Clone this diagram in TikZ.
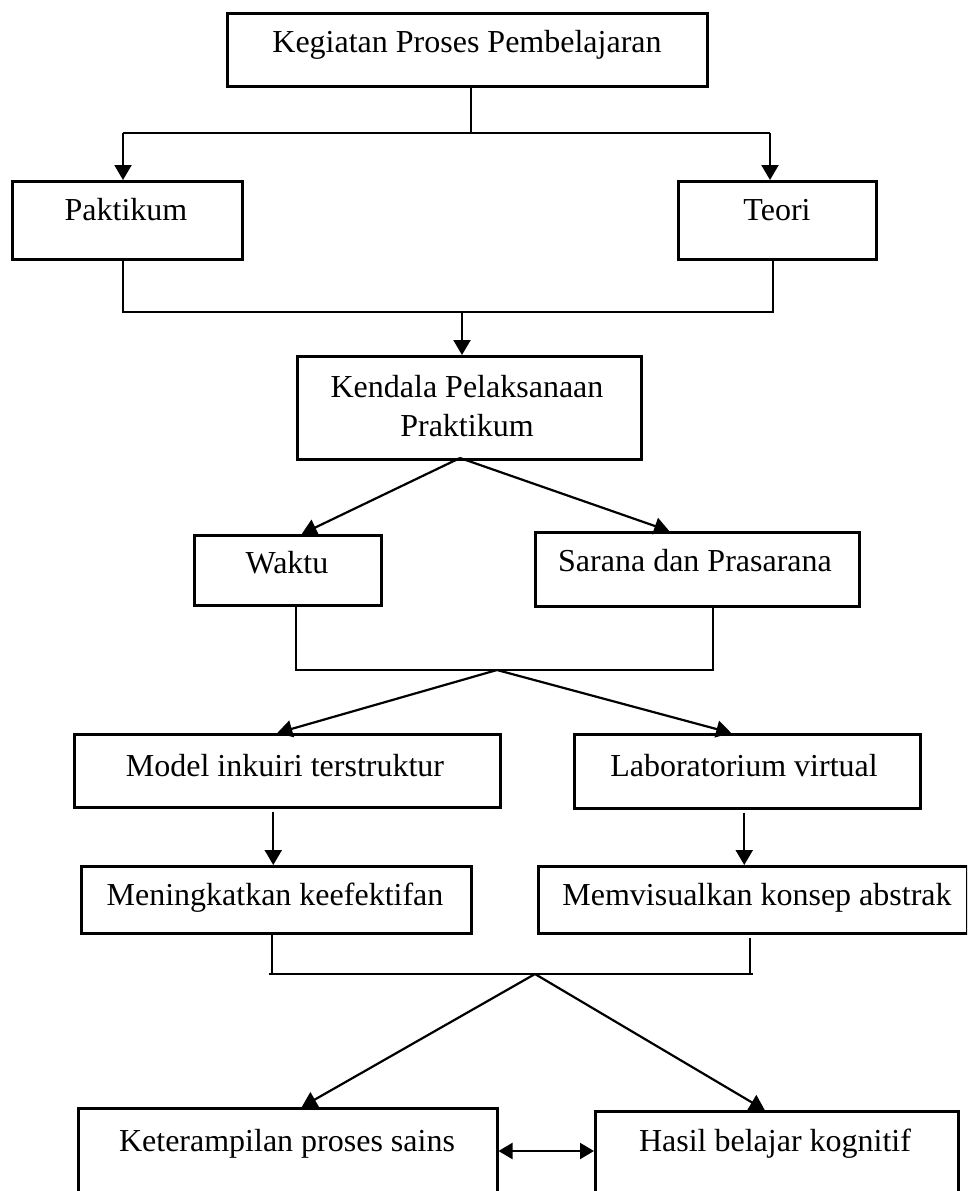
\documentclass[tikz,border=0pt]{standalone}
\usepackage{fontspec}
\setmainfont{Liberation Serif}
\usetikzlibrary{arrows.meta}
\tikzset{
  box/.style={draw, line width=2.5pt, inner sep=0pt, anchor=north west},
  txt/.style={inner sep=0pt, anchor=base, font=\fontsize{32}{39}\selectfont, align=center},
  thinline/.style={line width=1.2pt},
  arr/.style={line width=2.2pt, -{Triangle[length=15pt,width=17pt]}},
  dbl/.style={line width=2.2pt, {Triangle[length=14pt,width=16pt]}-{Triangle[length=14pt,width=16pt]}}
}
\begin{document}
\begin{tikzpicture}[x=1pt,y=-1pt]
\useasboundingbox (0,0) rectangle (967,1191);
\clip (0,0) rectangle (967,1191);
% boxes
\node[box, minimum width=480, minimum height=73] (b1) at (226,12) {};
\node[box, minimum width=230, minimum height=78] (b2) at (11,180) {};
\node[box, minimum width=198, minimum height=78] (b3) at (677,180) {};
\node[box, minimum width=344, minimum height=103] (b4) at (296,355) {};
\node[box, minimum width=187, minimum height=70] (b5) at (193,534) {};
\node[box, minimum width=324, minimum height=74] (b6) at (534,531) {};
\node[box, minimum width=426, minimum height=73] (b7) at (73,733) {};
\node[box, minimum width=346, minimum height=74] (b8) at (573,733) {};
\node[box, minimum width=390, minimum height=67] (b9) at (80,865) {};
\node[box, minimum width=429, minimum height=67] (b10) at (537,865) {};
\node[box, minimum width=419, minimum height=140] (b11) at (77,1107) {};
\node[box, minimum width=363, minimum height=140] (b12) at (594,1110) {};
% texts
\node[txt] (t1) at (467,52) {Kegiatan Proses Pembelajaran};
\node[txt] (t2) at (126,220) {Paktikum};
\node[txt] (t3) at (777,220) {Teori};
\node[txt] (t4) at (467,436) {Kendala Pelaksanaan\\Praktikum};
\node[txt] (t5) at (287,573) {Waktu};
\node[txt] (t6) at (695,571) {Sarana dan Prasarana};
\node[txt] (t7) at (285,776) {Model inkuiri terstruktur};
\node[txt] (t8) at (744,776) {Laboratorium virtual};
\node[txt] (t9) at (275,905) {Meningkatkan keefektifan};
\node[txt] (t10) at (757,905) {Memvisualkan konsep abstrak};
\node[txt] (t11) at (287,1151) {Keterampilan proses sains};
\node[txt] (t12) at (775,1151) {Hasil belajar kognitif};
% junction coordinates
\coordinate (L1) at (123,133);
\coordinate (R1) at (770,133);
\coordinate (L2) at (123,312);
\coordinate (R2) at (773,312);
\coordinate (M2) at (462,312);
\coordinate (K) at (460,458);
\coordinate (L3) at (296,670);
\coordinate (R3) at (713,670);
\coordinate (M3) at (497,670);
\coordinate (L4) at (272,974);
\coordinate (R4) at (750,974);
\coordinate (M4) at (535,974);
\coordinate (DY) at (0,1151);
% level 1
\draw[thinline] (b1.south -| 471,0) -- (471,133);
\draw[thinline] (L1) -- (R1);
\draw[arr] (L1) -- (L1 |- b2.north);
\draw[arr] (R1) -- (R1 |- b3.north);
% level 2
\draw[thinline] (L2 |- b2.south) -- (L2) -- (R2) -- (R2 |- b3.south);
\draw[arr] (M2) -- (M2 |- b4.north);
% level 3
\draw[arr] (K) -- ([xshift=14pt]b5.north);
\draw[arr] (K) -- ([xshift=-28pt]b6.north);
% level 4
\draw[thinline] (L3 |- b5.south) -- (L3) -- (R3) -- (R3 |- b6.south);
\draw[arr] (M3) -- ([xshift=-10pt]b7.north);
\draw[arr] (M3) -- ([xshift=-16pt]b8.north);
% level 5
\draw[arr] ([xshift=-14pt,yshift=-3pt]b7.south) -- ([xshift=-14pt]b7.south |- b9.north);
\draw[arr] ([xshift=-3pt,yshift=-3pt]b8.south) -- ([xshift=-3pt]b8.south |- b10.north);
% level 6
\draw[thinline] (L4 |- b9.south) -- (L4);
\draw[thinline] ([yshift=-3pt]R4 |- b10.south) -- (R4);
\draw[thinline] ([xshift=-3pt]L4) -- ([xshift=3pt]R4);
\draw[arr] (M4) -- ([xshift=14pt]b11.north);
\draw[arr] (M4) -- ([xshift=-12pt]b12.north);
% double arrow
\draw[dbl] (b11.east |- DY) -- (b12.west |- DY);
\end{tikzpicture}
\end{document}
